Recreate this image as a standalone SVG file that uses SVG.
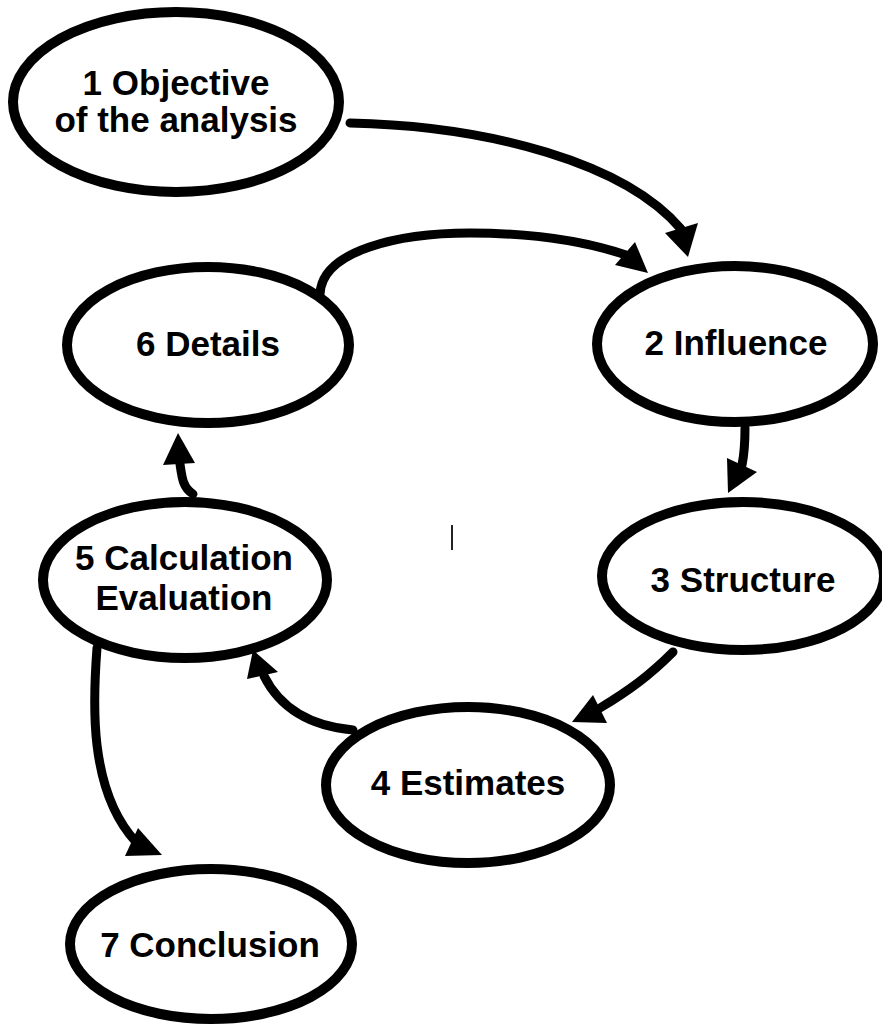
<svg xmlns="http://www.w3.org/2000/svg" width="882" height="1026" viewBox="0 0 882 1026">
  <style>
    .node ellipse { fill: #ffffff; stroke: #000000; stroke-width: 10; }
    .node text { font-family: "Liberation Sans", Arial, sans-serif; font-weight: bold; font-size: 35px; fill: #000000; text-anchor: middle; }
    .edge { fill: none; stroke: #000000; stroke-width: 9; stroke-linecap: round; stroke-linejoin: round; }
    .head { fill: #000000; stroke: none; }
  </style>
  <rect x="0" y="0" width="882" height="1026" fill="#ffffff"/>

  <g id="connectors">
    <!-- 1 -> 2 -->
    <path class="edge" d="M350,123 C490,126 625,163 681,229"/>
    <polygon class="head" points="688,257 665,233 698,223"/>
    <!-- 6 -> 2 -->
    <path class="edge" d="M320,294 C322,250 400,233 470,233 C540,233 590,243 626,255"/>
    <polygon class="head" points="648,273 615,265 635,242"/>
    <!-- 2 -> 3 -->
    <path class="edge" d="M745,428 C745,445 744,455 742,465"/>
    <polygon class="head" points="728,493 727,458 757,472"/>
    <!-- 3 -> 4 -->
    <path class="edge" d="M673,652 C650,675 630,690 600,708"/>
    <polygon class="head" points="572,722 593,695 607,723"/>
    <!-- 4 -> 5 -->
    <path class="edge" d="M353,730 C310,726 280,708 264,676"/>
    <polygon class="head" points="253,650 247,679 278,672"/>
    <!-- 5 -> 6 -->
    <path class="edge" d="M193,494 C183,488 182,478 180,464"/>
    <polygon class="head" points="178,433 163,465 195,463"/>
    <!-- 5 -> 7 -->
    <path class="edge" d="M97,648 C93,700 88,790 136,842"/>
    <polygon class="head" points="162,855 125,856 138,828"/>
  </g>

  <g id="node1" class="node">
    <ellipse cx="176" cy="102" rx="163" ry="90"/>
    <text x="176" y="95">1 Objective</text>
    <text x="176" y="132">of the analysis</text>
  </g>
  <g id="node2" class="node">
    <ellipse cx="735" cy="344" rx="138" ry="78"/>
    <text x="736" y="355">2 Influence</text>
  </g>
  <g id="node3" class="node">
    <ellipse cx="743" cy="576" rx="141" ry="74"/>
    <text x="743" y="592">3 Structure</text>
  </g>
  <g id="node4" class="node">
    <ellipse cx="468" cy="785" rx="142" ry="78"/>
    <text x="468" y="795">4 Estimates</text>
  </g>
  <g id="node5" class="node">
    <ellipse cx="185" cy="580" rx="142" ry="78"/>
    <text x="184" y="570">5 Calculation</text>
    <text x="184" y="610">Evaluation</text>
  </g>
  <g id="node6" class="node">
    <ellipse cx="208" cy="345" rx="141" ry="78"/>
    <text x="208" y="356">6 Details</text>
  </g>
  <g id="node7" class="node">
    <ellipse cx="211" cy="944" rx="141" ry="75"/>
    <text x="210" y="957">7 Conclusion</text>
  </g>

  <!-- stray vertical stroke -->
  <line x1="452" y1="525" x2="452" y2="550" stroke="#222222" stroke-width="2"/>
</svg>
